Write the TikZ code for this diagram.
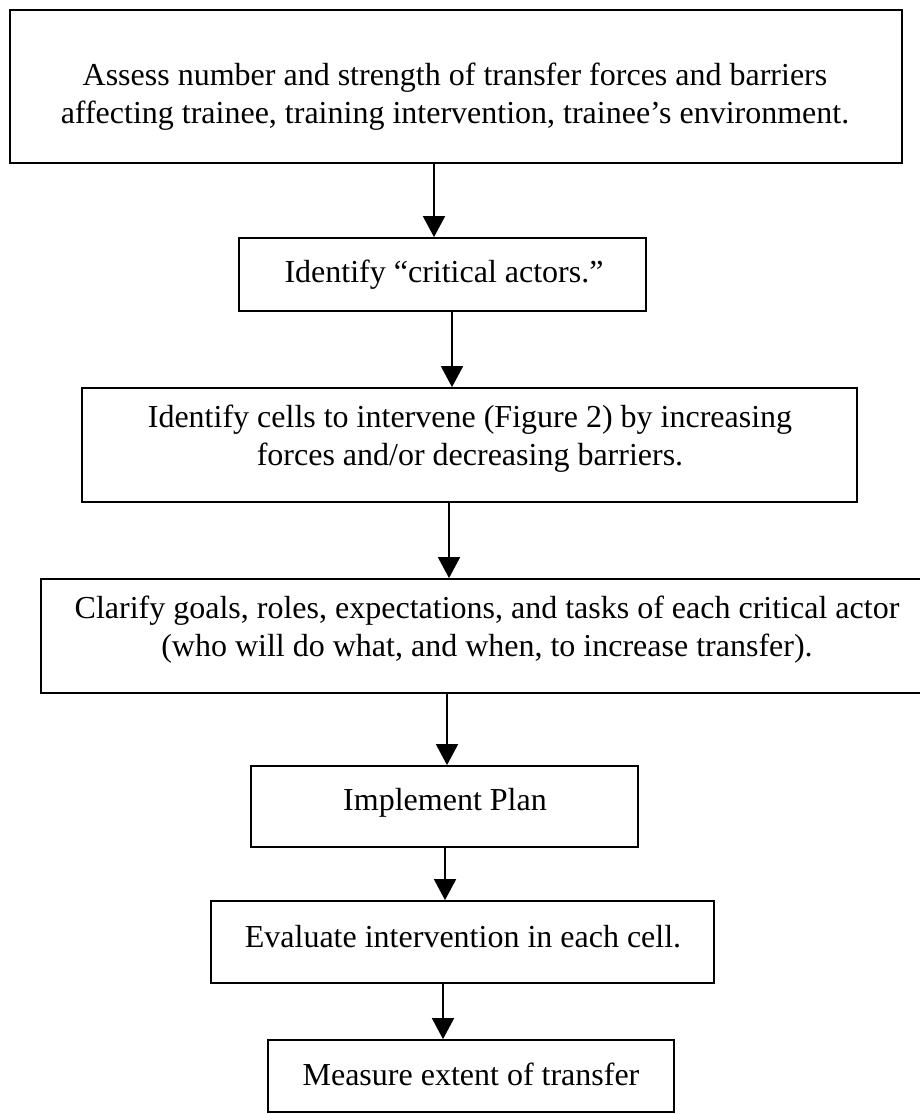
\documentclass[tikz,border=0pt]{standalone}
\usepackage{fontspec}
\setmainfont{Liberation Serif}
\usetikzlibrary{arrows.meta}
\tikzset{
  box/.style={draw=black, line width=1.8pt, inner sep=0pt, fill=none},
  txt/.style={align=center, inner sep=0pt, font=\fontsize{32}{38}\selectfont},
  arr/.style={line width=1.8pt, -{Triangle[width=22pt,length=21pt]}},
}
\begin{document}
\begin{tikzpicture}[x=1pt,y=-1pt]
\fill[white] (0,0) rectangle (920,1114);
\useasboundingbox (0,0) rectangle (920,1114);
\clip (0,0) rectangle (920,1114);
% boxes
\node[box, minimum width=892pt, minimum height=153pt] (b1) at (456,86.5) {};
\node[box, minimum width=407pt, minimum height=73pt] (b2) at (442.5,274.5) {};
\node[box, minimum width=775pt, minimum height=114pt] (b3) at (469.5,445) {};
\node[box, minimum width=899pt, minimum height=114pt] (b4) at (490.5,636) {};
\node[box, minimum width=387pt, minimum height=81pt] (b5) at (444.5,806.5) {};
\node[box, minimum width=503pt, minimum height=82pt] (b6) at (462.5,942) {};
\node[box, minimum width=406pt, minimum height=72pt] (b7) at (471,1076) {};
% texts
\node[txt] (t1) at (455,97) {Assess number and strength of transfer forces and barriers\\affecting trainee, training intervention, trainee’s environment.};
\node[txt] (t2) at (444,275) {Identify “critical actors.”};
\node[txt] (t3) at (470,439) {Identify cells to intervene (Figure 2) by increasing\\forces and/or decreasing barriers.};
\node[txt] (t4) at (487,630) {Clarify goals, roles, expectations, and tasks of each critical actor\\(who will do what, and when, to increase transfer).};
\node[txt] (t5) at (445,803) {Implement Plan};
\node[txt] (t6) at (463,937) {Evaluate intervention in each cell.};
\node[txt] (t7) at (471,1074) {Measure extent of transfer};
% arrow columns
\coordinate (x1) at (434,0);
\coordinate (x2) at (452,0);
\coordinate (x3) at (449,0);
\coordinate (x4) at (447,0);
\coordinate (x5) at (445,0);
\coordinate (x6) at (443,0);
\draw[arr] (b1.south -| x1) -- (b2.north -| x1);
\draw[arr] (b2.south -| x2) -- (b3.north -| x2);
\draw[arr] (b3.south -| x3) -- (b4.north -| x3);
\draw[arr] (b4.south -| x4) -- (b5.north -| x4);
\draw[arr] (b5.south -| x5) -- (b6.north -| x5);
\draw[arr] (b6.south -| x6) -- (b7.north -| x6);
\end{tikzpicture}
\end{document}
